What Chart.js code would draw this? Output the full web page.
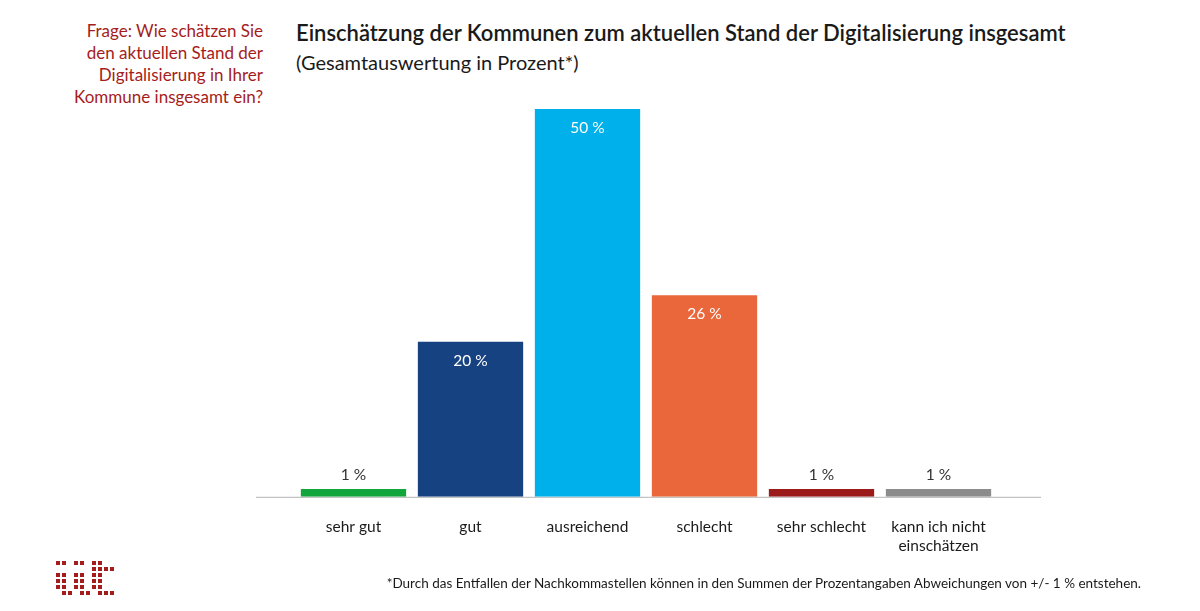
<!DOCTYPE html>
<html>
<head>
<meta charset="utf-8">
<script src="https://cdn.jsdelivr.net/npm/chart.js@4"></script>
<style>
  body { margin: 0; background: #fff; font-family: Lato, "Open Sans", sans-serif; }
  #wrap { position: relative; width: 1200px; height: 611px; overflow: hidden; }
  #frage { position: absolute; right: 937px; top: 20px; text-align: right; color: #a51c1c; font-size: 17px; line-height: 22px; }
  #titel { position: absolute; left: 296px; top: 19px; color: #1a1a1a; font-size: 22px; font-weight: 600; }
  #untertitel { position: absolute; left: 296px; top: 50px; color: #1a1a1a; font-size: 20px; }
  #fussnote { position: absolute; right: 59px; top: 575px; color: #1a1a1a; font-size: 13.5px; }
  #logo { position: absolute; left: 56px; top: 561px; }
  #logo span { position: absolute; width: 4px; height: 4px; background: #a51c1c; }
  canvas { position: absolute; left: 0; top: 0; }
</style>
</head>
<body>
<div id="wrap">
  <div id="frage">Frage: Wie schätzen Sie<br>den aktuellen Stand der<br>Digitalisierung in Ihrer<br>Kommune insgesamt ein?</div>
  <div id="titel">Einschätzung der Kommunen zum aktuellen Stand der Digitalisierung insgesamt</div>
  <div id="untertitel">(Gesamtauswertung in Prozent*)</div>
  <canvas id="myChart" width="1200" height="611"></canvas>
  <div id="fussnote">*Durch das Entfallen der Nachkommastellen können in den Summen der Prozentangaben Abweichungen von +/- 1 % entstehen.</div>
  <div id="logo"></div>
</div>
<script>
// Daten
let kategorien = ["sehr gut", "gut", "ausreichend", "schlecht", "sehr schlecht", ["kann ich nicht", "einschätzen"]];
let werte = [1, 20, 50, 26, 1, 1];
let farben = ["#12a53b", "#174282", "#00b0ea", "#e9673a", "#9b1a1a", "#8c8c8c"];

// Logo (Punktraster)
let logoZeilen = [[0,1,3,4,6,7],[6,7,8,9],[0,1,3,4,6,7],[0,1,3,4,6,7],[0,1,3,4,6,7],[1,2,4,5,7,8,9]];
let logo = document.getElementById("logo");
logoZeilen.forEach(function (zeile, r) {
  zeile.forEach(function (c) {
    let s = document.createElement("span");
    s.style.left = (c * 6) + "px";
    s.style.top = (r * 5.9) + "px";
    logo.appendChild(s);
  });
});

// Werte an die Balken schreiben
let wertLabels = {
  id: "wertLabels",
  afterDatasetsDraw(chart) {
    let ctx = chart.ctx;
    let meta = chart.getDatasetMeta(0);
    ctx.save();
    ctx.font = "15.5px Lato, sans-serif";
    ctx.textAlign = "center";
    ctx.textBaseline = "middle";
    meta.data.forEach(function (bar, i) {
      let w = werte[i];
      if (w >= 5) {
        ctx.fillStyle = "#ffffff";
        ctx.fillText(w + " %", bar.x, bar.y + 19);
      } else {
        ctx.fillStyle = "#333333";
        ctx.fillText(w + " %", bar.x, bar.y - 14);
      }
    });
    ctx.restore();
  }
};

// Grundlinie etwas breiter als die Balkenfläche
let grundlinie = {
  id: "grundlinie",
  beforeDatasetsDraw(chart) {
    let ctx = chart.ctx;
    let a = chart.chartArea;
    let y = chart.scales.y.getPixelForValue(0);
    ctx.save();
    ctx.strokeStyle = "#b3b3b3";
    ctx.lineWidth = 1;
    ctx.beginPath();
    ctx.moveTo(a.left - 39, y + 0.5);
    ctx.lineTo(a.right + 44, y + 0.5);
    ctx.stroke();
    ctx.restore();
  }
};

new Chart("myChart", {
  type: "bar",
  data: {
    labels: kategorien,
    datasets: [
      {
        data: werte,
        backgroundColor: farben,
        borderWidth: 0,
        barPercentage: 0.9,
        categoryPercentage: 1,
      },
    ],
  },
  options: {
    responsive: false,
    animation: false,
    layout: { padding: { left: 295, right: 203, top: 109, bottom: 35 } },
    plugins: {
      legend: { display: false },
      tooltip: { enabled: false },
    },
    scales: {
      x: {
        grid: { display: false, drawTicks: false },
        border: { display: false },
        ticks: { color: "#1a1a1a", font: { family: "Lato", size: 15.5 }, padding: 21, maxRotation: 0 },
      },
      y: {
        display: false,
        min: 0,
        max: 50,
      },
    },
  },
  plugins: [wertLabels, grundlinie],
});
</script>
</body>
</html>
